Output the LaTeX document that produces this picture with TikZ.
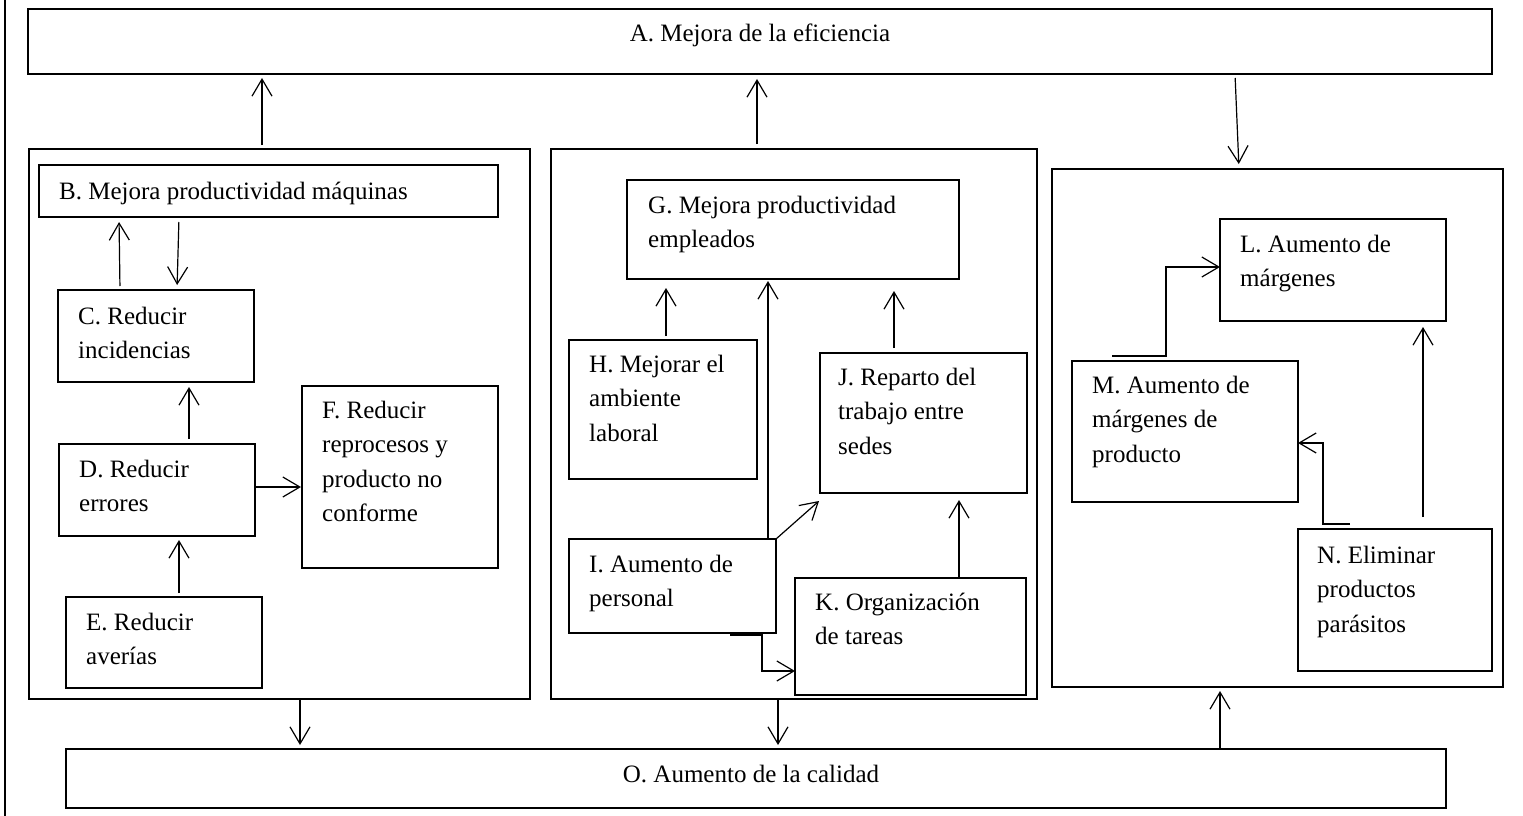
\documentclass[tikz,border=0pt]{standalone}
\usepackage{fontspec}
\setmainfont{Liberation Serif}
\usetikzlibrary{arrows.meta,calc}
\begin{document}
\begin{tikzpicture}[x=1pt,y=-1pt,
  box/.style={draw, line width=1.2pt, anchor=north west, inner sep=0pt, outer sep=0pt},
  thickbox/.style={box, line width=2.4pt},
  txt/.style={anchor=base west, align=left, inner sep=0pt, font=\fontsize{25}{34.5}\selectfont},
  ctxt/.style={txt, anchor=base},
  arr/.style={-{Straight Barb[length=17pt,width=20pt]}, line width=1.2pt},
]
\useasboundingbox (0,0) rectangle (1523,816);
% page rule on the left
\coordinate (pt) at (5,0);
\coordinate (pb) at (5,816);
\draw[line width=2pt] (pt) -- (pb);

% boxes
\node[box, minimum width=1464pt, minimum height=65pt] (A) at (28,9) {};
\node[box, minimum width=501pt, minimum height=550pt] (Lgrp) at (29,149) {};
\node[box, minimum width=459pt, minimum height=52pt] (B) at (39,165) {};
\node[box, minimum width=196pt, minimum height=92pt] (C) at (58,290) {};
\node[box, minimum width=196pt, minimum height=92pt] (D) at (59,444) {};
\node[box, minimum width=196pt, minimum height=91pt] (E) at (66,597) {};
\node[box, minimum width=196pt, minimum height=182pt] (F) at (302,386) {};
\node[box, minimum width=486pt, minimum height=550pt] (Mgrp) at (551,149) {};
\node[box, minimum width=332pt, minimum height=99pt] (G) at (627,180) {};
\node[box, minimum width=188pt, minimum height=139pt] (H) at (569,340) {};
\node[box, minimum width=207pt, minimum height=140pt] (J) at (820,353) {};
\node[box, minimum width=207pt, minimum height=94pt] (I) at (569,539) {};
\node[box, minimum width=231pt, minimum height=117pt] (K) at (795,578) {};
\node[thickbox, minimum width=451pt, minimum height=518pt] (Rgrp) at (1052,169) {};
\node[box, minimum width=226pt, minimum height=102pt] (L) at (1220,219) {};
\node[box, minimum width=226pt, minimum height=141pt] (M) at (1072,361) {};
\node[box, minimum width=194pt, minimum height=142pt] (N) at (1298,529) {};
\node[box, minimum width=1380pt, minimum height=59pt] (O) at (66,749) {};

% texts (anchored at the baseline of the last line)
\node[ctxt] (At) at (760,42) {A. Mejora de la eficiencia};
\node[txt] (Bt) at (59,199) {B. Mejora productividad máquinas};
\node[txt] (Ct) at (78,358.5) {C. Reducir\\incidencias};
\node[txt] (Dt) at (79,511.5) {D. Reducir\\errores};
\node[txt] (Et) at (86,664.5) {E. Reducir\\averías};
\node[txt] (Ft) at (322,521.5) {F. Reducir\\reprocesos y\\producto no\\conforme};
\node[txt] (Gt) at (648,247.5) {G. Mejora productividad\\empleados};
\node[txt] (Ht) at (589,441) {H. Mejorar el\\ambiente\\laboral};
\node[txt] (Jt) at (838,454) {J. Reparto del\\trabajo entre\\sedes};
\node[txt] (It) at (589,606.5) {I. Aumento de\\personal};
\node[txt] (Kt) at (815,644.5) {K. Organización\\de tareas};
\node[txt] (Lt) at (1240,286.5) {L. Aumento de\\márgenes};
\node[txt] (Mt) at (1092,462) {M. Aumento de\\márgenes de\\producto};
\node[txt] (Nt) at (1317,632) {N. Eliminar\\productos\\parásitos};
\node[ctxt] (Ot) at (751,782) {O. Aumento de la calidad};

% connectors
\draw[arr, shorten <=4pt, shorten >=4pt] (Lgrp.north -| 262,0) -- (A.south -| 262,0);
\draw[arr, shorten <=5pt, shorten >=5pt] (Mgrp.north -| 757,0) -- (A.south -| 757,0);
\draw[arr, shorten <=4pt, shorten >=5pt] (A.south -| 1235,0) -- (Rgrp.north -| 1239,0);
\draw[arr, shorten <=4pt, shorten >=5pt] (C.north -| 120,0) -- (B.south -| 119,0);
\draw[arr, shorten <=5pt, shorten >=5pt] (B.south -| 179,0) -- (C.north -| 177,0);
\draw[arr, shorten <=5pt, shorten >=5pt] (D.north -| 189,0) -- (C.south -| 189,0);
\draw[arr, shorten <=4pt, shorten >=4pt] (E.north -| 179,0) -- (D.south -| 179,0);
\draw[arr, shorten >=1pt] (D.east |- 0,487) -- (F.west |- 0,487);
\draw[arr, shorten <=4pt, shorten >=9pt] (H.north -| 666,0) -- (G.south -| 666,0);
\draw[arr, shorten >=2pt] (I.north -| 768,0) -- (G.south -| 768,0);
\draw[arr, shorten <=5pt, shorten >=12pt] (J.north -| 894,0) -- (G.south -| 894,0);
\draw[arr] (I.north east) -- ($(J.south west)+(-1,8)$);
\coordinate (ik) at (730,635);
\draw[arr] (ik) -| (762,671) -- (K.west |- 0,671);
\draw[arr, shorten >=7pt] (K.north -| 959,0) -- (J.south -| 959,0);
\coordinate (ml) at (1112,356);
\draw[arr] (ml) -| (1166,267) -- (L.west |- 0,267);
\coordinate (nm) at (1350,524);
\draw[arr] (nm) -| (1323,443) -- (M.east |- 0,443);
\draw[arr, shorten <=12pt, shorten >=6pt] (N.north -| 1423,0) -- (L.south -| 1423,0);
\draw[arr, shorten >=4pt] (Lgrp.south -| 300,0) -- (O.north -| 300,0);
\draw[arr, shorten >=4pt] (Mgrp.south -| 778,0) -- (O.north -| 778,0);
\draw[arr, shorten <=1pt, shorten >=4pt] (O.north -| 1220,0) -- (Rgrp.south -| 1220,0);
\end{tikzpicture}
\end{document}
